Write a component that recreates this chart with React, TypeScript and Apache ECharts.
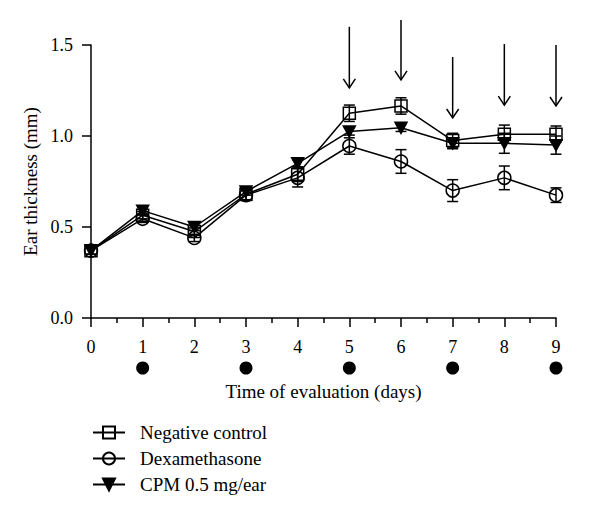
import React, { useEffect, useRef } from "react";
import * as echarts from "echarts";

const days = [0, 1, 2, 3, 4, 5, 6, 7, 8, 9];
const negControl = [0.37, 0.565, 0.475, 0.68, 0.79, 1.125, 1.165, 0.975, 1.01, 1.01];
const negControlErr = [0.02, 0.02, 0.02, 0.03, 0.04, 0.045, 0.045, 0.04, 0.05, 0.045];
const dexamethasone = [0.37, 0.545, 0.44, 0.675, 0.77, 0.945, 0.86, 0.7, 0.77, 0.675];
const dexamethasoneErr = [0.02, 0.02, 0.02, 0.03, 0.05, 0.045, 0.065, 0.06, 0.065, 0.04];
const cpm = [0.37, 0.59, 0.5, 0.695, 0.85, 1.025, 1.045, 0.96, 0.96, 0.95];
const cpmErr = [0.02, 0.02, 0.02, 0.02, 0.02, 0.02, 0.02, 0.03, 0.055, 0.05];

// arrows: [day, start value, tip value]
const arrowDays = [5, 6, 7, 8, 9];
const arrowStart = [1.6, 1.637, 1.434, 1.505, 1.5];
const arrowTip = [1.264, 1.308, 1.099, 1.17, 1.165];

// application days (filled dots under axis)
const dotDays = [1, 3, 5, 7, 9];

const seriesNames = ["Negative control", "Dexamethasone", "CPM 0.5 mg/ear"];

const FONT = "Liberation Serif";

function errData(vals: number[], errs: number[]) {
  return days.map((d, i) => [d, vals[i] - errs[i], vals[i] + errs[i]]);
}

function errorBarSeries(vals: number[], errs: number[]) {
  return {
    type: "custom",
    clip: false,
    silent: true,
    z: 1,
    data: errData(vals, errs),
    encode: { x: 0, y: [1, 2] },
    renderItem: (params: any, api: any) => {
      const x = api.value(0);
      const lo = api.coord([x, api.value(1)]);
      const hi = api.coord([x, api.value(2)]);
      const w = 5.5;
      const st = { stroke: "#000", lineWidth: 1.5 };
      return {
        type: "group",
        children: [
          { type: "line", shape: { x1: lo[0], y1: lo[1], x2: hi[0], y2: hi[1] }, style: st },
          { type: "line", shape: { x1: lo[0] - w, y1: lo[1], x2: lo[0] + w, y2: lo[1] }, style: st },
          { type: "line", shape: { x1: hi[0] - w, y1: hi[1], x2: hi[0] + w, y2: hi[1] }, style: st },
        ],
      };
    },
  };
}

function lineSeries(name: string, vals: number[], symbol: string, size: any, fill: string, rotate = 0) {
  return {
    type: "line",
    name,
    z: 3,
    data: days.map((d, i) => [d, vals[i]]),
    symbol,
    symbolSize: size,
    symbolRotate: rotate,
    showAllSymbol: true,
    lineStyle: { color: "#000", width: 1.5 },
    itemStyle: { color: fill, borderColor: "#000", borderWidth: 1.5 },
  };
}

export default function App() {
  const ref = useRef<HTMLDivElement>(null);
  useEffect(() => {
    document.body.style.margin = "0";
    const chart = echarts.init(ref.current!, null, { renderer: "svg" });
    const axisColor = "#000";
    chart.setOption({
      animation: false,
      backgroundColor: "#fff",
      grid: { left: 91, right: 44, top: 45, bottom: 198 },
      legend: {
        orient: "vertical",
        left: 92,
        top: 423,
        padding: 0,
        itemWidth: 32,
        itemHeight: 15,
        itemGap: 7,
        data: seriesNames,
        textStyle: { fontFamily: FONT, fontSize: 19, color: "#000", padding: [0, 0, 0, 10] },
      },
      xAxis: {
        type: "value",
        min: 0,
        max: 9,
        interval: 1,
        name: "Time of evaluation (days)",
        nameLocation: "middle",
        nameGap: 64,
        nameTextStyle: { fontFamily: FONT, fontSize: 19, color: "#000" },
        axisLine: { show: true, lineStyle: { color: axisColor, width: 1.5 } },
        axisTick: { show: true, length: 9, lineStyle: { color: axisColor, width: 1.5 } },
        minorTick: { show: true, splitNumber: 2, length: 5, lineStyle: { color: axisColor, width: 1.5 } },
        axisLabel: { fontFamily: FONT, fontSize: 18, color: "#000", margin: 20 },
        splitLine: { show: false },
      },
      yAxis: {
        type: "value",
        min: 0,
        max: 1.5,
        interval: 0.5,
        name: "Ear thickness (mm)",
        nameLocation: "middle",
        nameGap: 50,
        nameTextStyle: { fontFamily: FONT, fontSize: 19, color: "#000" },
        axisLine: { show: true, lineStyle: { color: axisColor, width: 1.5 } },
        axisTick: { show: true, length: 9, lineStyle: { color: axisColor, width: 1.5 } },
        axisLabel: {
          fontFamily: FONT,
          fontSize: 18,
          color: "#000",
          margin: 18,
          formatter: (v: number) => v.toFixed(1),
        },
        splitLine: { show: false },
      },
      series: [
        errorBarSeries(negControl, negControlErr),
        errorBarSeries(dexamethasone, dexamethasoneErr),
        errorBarSeries(cpm, cpmErr),
        lineSeries(seriesNames[0], negControl, "rect", 12, "rgba(0,0,0,0)"),
        lineSeries(seriesNames[1], dexamethasone, "circle", 13, "rgba(0,0,0,0)"),
        lineSeries(seriesNames[2], cpm, "triangle", [12, 11], "#000", 180),
        {
          type: "custom",
          clip: false,
          silent: true,
          data: arrowDays.map((d, i) => [d, arrowStart[i], arrowTip[i]]),
          encode: { x: 0, y: [1, 2] },
          renderItem: (params: any, api: any) => {
            const x = api.value(0);
            const s = api.coord([x, api.value(1)]);
            const t = api.coord([x, api.value(2)]);
            const st = { stroke: "#000", lineWidth: 1.5, fill: "none" };
            return {
              type: "group",
              children: [
                { type: "line", shape: { x1: s[0], y1: s[1], x2: t[0], y2: t[1] }, style: st },
                {
                  type: "polyline",
                  shape: { points: [[t[0] - 6, t[1] - 9], [t[0], t[1]], [t[0] + 6, t[1] - 9]] },
                  style: st,
                },
              ],
            };
          },
        },
        {
          type: "custom",
          clip: false,
          silent: true,
          data: dotDays.map((d) => [d, 0]),
          encode: { x: 0, y: 1 },
          renderItem: (params: any, api: any) => {
            const p = api.coord([api.value(0), 0]);
            return {
              type: "circle",
              shape: { cx: p[0], cy: p[1] + 50, r: 6.5 },
              style: { fill: "#000" },
            };
          },
        },
      ],
    });
    return () => chart.dispose();
  }, []);
  return <div ref={ref} style={{ width: 600, height: 516 }} />;
}
